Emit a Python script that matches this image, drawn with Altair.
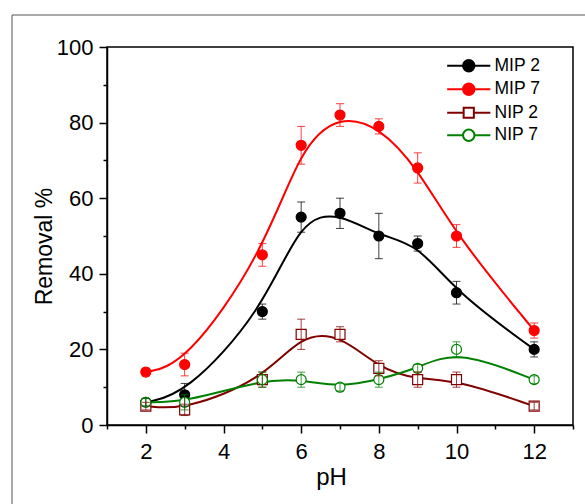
import altair as alt
import pandas as pd

# ---------------- data ----------------
ph = [2, 3, 5, 6, 7, 8, 9, 10, 12]
series_names = ["MIP 2", "MIP 7", "NIP 2", "NIP 7"]

mip2 = [6, 8, 30, 55, 56, 50, 48, 35, 20]
mip2_err = [1, 3, 2, 4, 4, 6, 2, 3, 2]
mip7 = [14, 16, 45, 74, 82, 79, 68, 50, 25]
mip7_err = [1, 3, 3, 5, 3, 2, 4, 3, 2]
nip2 = [5, 4, 12, 24, 24, 15, 12, 12, 5]
nip2_err = [1, 1.5, 2, 4, 2, 2, 2, 2, 1]
nip7 = [6, 6, 12, 12, 10, 12, 15, 20, 12]
nip7_err = [1, 2, 2, 2, 1, 2, 1, 2, 1]

x_ticks = list(range(1, 14))
y_ticks = list(range(0, 101, 10))

# ---------------- styles ----------------
line_colors = ["#000000", "#ff0000", "#800000", "#008000"]
fill_colors = ["#000000", "#ff0000", "#ffffff", "#ffffff"]
marker_shapes = ["circle", "circle", "square", "circle"]
CIRC = "M-3.6,0L-0.95,0M0.95,0L3.6,0M0.95,0A0.95,0.95,0,1,1,-0.95,0A0.95,0.95,0,1,1,0.95,0Z"
SQR = "M-3.6,0L-0.85,0M0.85,0L3.6,0M-0.85,-0.85L0.85,-0.85L0.85,0.85L-0.85,0.85Z"
legend_shapes = [CIRC, CIRC, SQR, CIRC]

values = [mip2, mip7, nip2, nip7]
errors = [mip2_err, mip7_err, nip2_err, nip7_err]
rows = []
for k, name in enumerate(series_names):
    for p, v, e in zip(ph, values[k], errors[k]):
        rows.append({"series": name, "ph": p, "value": v, "lo": v - e, "hi": v + e, "k": k})
df = pd.DataFrame(rows)

W, H = 466, 378
FONT = "Liberation Sans"

x_axis = alt.Axis(
    values=x_ticks,
    labelExpr="datum.value % 2 == 0 ? datum.label : ''",
    tickSize={"condition": {"test": "datum.value % 2 == 1", "value": 4}, "value": 8},
    title="pH",
    grid=False,
    labelOverlap=False,
    labelFlush=False,
    labelPadding=8,
    titlePadding=3,
    titleX=224,
    titleFontSize=24,
)
y_axis = alt.Axis(
    values=y_ticks,
    labelExpr="datum.value % 20 == 0 ? datum.label : ''",
    tickSize={"condition": {"test": "datum.value % 20 != 0", "value": 4}, "value": 8},
    title="Removal %",
    grid=False,
    labelOverlap=False,
    labelFlush=False,
    labelPadding=6,
    titlePadding=0,
    titleFontSize=23,
    titleY=199,
)

xs = alt.Scale(domain=[1, 13], nice=False, zero=False)
ys = alt.Scale(domain=[0, 100], nice=False, zero=False)

stroke_scale = alt.Scale(domain=series_names, range=line_colors)
fill_scale = alt.Scale(domain=series_names, range=fill_colors)
shape_scale = alt.Scale(domain=series_names, range=marker_shapes)
legend_shape_scale = alt.Scale(domain=series_names, range=legend_shapes)


def X(field="ph"):
    return alt.X(f"{field}:Q", scale=xs, axis=x_axis)


def Y(field="value"):
    return alt.Y(f"{field}:Q", scale=ys, axis=y_axis)


base = alt.Chart(df)

frame = alt.Chart(pd.DataFrame({"f": [0]})).mark_rect(
    filled=False, stroke="#555555", strokeWidth=1, clip=False
).encode(
    x=alt.value(-95), x2=alt.value(W + 60), y=alt.value(-32), y2=alt.value(H + 120)
)

lines = base.mark_line(interpolate="basis", strokeWidth=2).encode(
    x=X(), y=Y(),
    stroke=alt.Stroke("series:N", scale=stroke_scale, legend=None),
    detail="series:N",
)

points = base.mark_point(filled=True, size=100, strokeWidth=1.2, opacity=1).encode(
    x=X(), y=Y(),
    stroke=alt.Stroke("series:N", scale=stroke_scale, legend=None),
    fill=alt.Fill("series:N", scale=fill_scale, legend=None),
    shape=alt.Shape("series:N", scale=shape_scale, legend=None),
    order=alt.Order("k:Q"),
)

err_rule = base.mark_rule(strokeWidth=1, opacity=0.75).encode(
    x=X(), y=Y("lo"), y2="hi:Q",
    stroke=alt.Stroke("series:N", scale=stroke_scale, legend=None),
)
cap_lo = base.mark_tick(orient="horizontal", size=8, thickness=1, opacity=0.75).encode(
    x=X(), y=Y("lo"),
    color=alt.Color("series:N", scale=stroke_scale, legend=None),
)
cap_hi = base.mark_tick(orient="horizontal", size=8, thickness=1, opacity=0.75).encode(
    x=X(), y=Y("hi"),
    color=alt.Color("series:N", scale=stroke_scale, legend=None),
)

legend_layer = base.transform_filter("false").mark_point(filled=True, opacity=1).encode(
    stroke=alt.Stroke("series:N", scale=stroke_scale, legend=alt.Legend(
        orient="none", legendX=338, legendY=10, title=None,
        symbolSize=144, symbolStrokeWidth=2, symbolOffset=15,
        labelOffset=17, labelFontSize=17.5, labelFont=FONT, labelColor="#000000",
        rowPadding=3.5, padding=0,
    )),
    fill=alt.Fill("series:N", scale=fill_scale),
    shape=alt.Shape("series:N", scale=legend_shape_scale),
)

chart = alt.layer(
    frame, lines, points, err_rule, cap_lo, cap_hi, legend_layer
).resolve_scale(
    stroke="independent", fill="independent", shape="independent", color="independent"
).properties(
    width=W, height=H,
    autosize=alt.AutoSizeParams(type="none"),
    padding={"left": 107, "top": 47, "right": 12, "bottom": 79},
    background="white",
).configure_view(
    stroke="#000000", strokeWidth=1.5
).configure_axis(
    labelFont=FONT, titleFont=FONT, labelFontSize=22,
    labelColor="#000000", titleColor="#000000", titleFontWeight="normal",
    domainColor="#000000", domainWidth=1.5, tickColor="#000000", tickWidth=1.5,
)

chart.save("out.html", embed_options={"renderer": "svg", "actions": False})
